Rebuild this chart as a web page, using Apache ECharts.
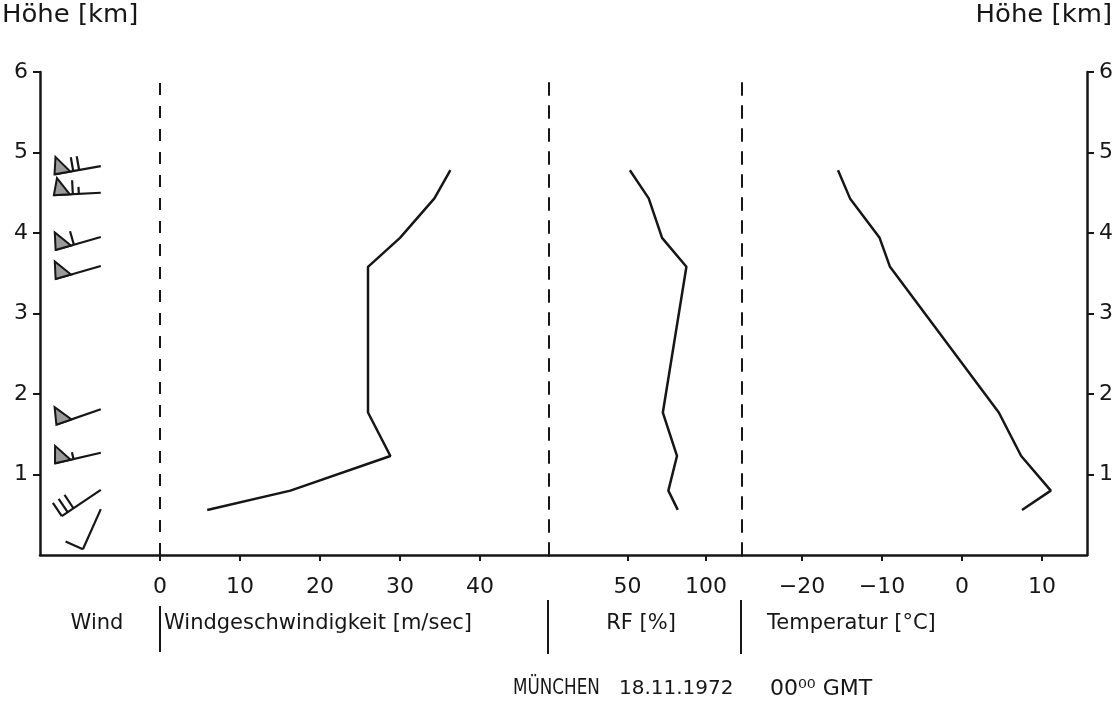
<!DOCTYPE html>
<html><head><meta charset="utf-8">
<script src="https://cdn.jsdelivr.net/npm/echarts@6/dist/echarts.min.js"></script>
<style>html,body{margin:0;padding:0;background:#fff}#c{width:1118px;height:706px}</style>
</head><body><div id="c"></div>
<script>
// ---- data ----
const heights      = [0.56, 0.80, 1.23, 1.77, 3.58, 3.94, 4.43, 4.78];   // km
const windSpeed    = [5.9, 16.3, 28.8, 26.0, 26.0, 30.0, 34.3, 36.3];    // m/s
const relHumidity  = [82, 76, 81.5, 72.5, 87.5, 72, 63.5, 51.5];          // %
const temperature  = [7.5, 11.1, 7.4, 4.6, -9.0, -10.3, -14.0, -15.5];    // °C
const barbHeights  = [0.57, 0.81, 1.27, 1.81, 3.59, 3.95, 4.50, 4.83];    // km
const barbDirection= [204, 236, 257, 251, 254, 254, 267, 260];            // deg
const barbKnots    = [10, 30, 55, 50, 50, 60, 65, 70];                    // kn
const heightTicks  = [1, 2, 3, 4, 5, 6];
const windTicks    = [0, 10, 20, 30, 40];
const rfTicks      = [50, 100];
const tempTicks    = [-20, -10, 0, 10];

const FONT = "'DejaVu Sans', 'Liberation Sans', sans-serif";
const INK = '#161616';
const BARB_X = -7.4; // horizontal anchor of the wind barbs (wind-axis units)

const chart = echarts.init(document.getElementById('c'), null, {renderer: 'canvas'});

const axisText = {color: INK, fontFamily: FONT, fontSize: 22};
const xAxisBase = (gi, min, max, ticks) => ({
  type: 'value', gridIndex: gi, min: min, max: max, splitLine: {show: false},
  axisLine: {show: true, onZero: false, lineStyle: {color: INK, width: 2.5}},
  axisTick: {show: true, customValues: ticks, length: 6, lineStyle: {color: INK, width: 2}},
  axisLabel: Object.assign({show: true, customValues: ticks, margin: 21,
    formatter: v => (v < 0 ? '\u2212' + Math.abs(v) : String(v))}, axisText)
});

function renderBarb(params, api) {
  const p = api.coord([api.value(0), api.value(1)]);
  const d = api.value(2) * Math.PI / 180;
  let kn = api.value(3);
  const total = kn;
  const ux = Math.sin(d), uy = -Math.cos(d);
  const nx = -uy, ny = ux;
  const L = total === 10 ? 44 : 47;
  const tip = [p[0] + L * ux, p[1] + L * uy];
  const at = o => [tip[0] - o * ux, tip[1] - o * uy];
  const ls = {stroke: INK, lineWidth: 2.2};
  const children = [{type: 'line', shape: {x1: p[0], y1: p[1], x2: tip[0], y2: tip[1]}, style: ls}];
  let off = 0;
  let pennant = false;
  while (kn >= 50) {
    const a = at(off), c = at(off + 16), bb = at(off + 4);
    children.push({type: 'polygon', shape: {points: [a, [bb[0] + 17 * nx, bb[1] + 17 * ny], c]},
      style: {fill: '#9a9a9a', stroke: INK, lineWidth: 2}});
    off += 19; kn -= 50; pennant = true;
  }
  const fullLen = pennant ? 14 : (total === 10 ? 19 : 16);
  const gap = pennant ? 6 : 7;
  while (kn >= 10) {
    const s = at(off);
    children.push({type: 'line', shape: {x1: s[0], y1: s[1], x2: s[0] + fullLen * nx, y2: s[1] + fullLen * ny}, style: ls});
    off += gap; kn -= 10;
  }
  if (kn >= 5) {
    const s = at(off);
    children.push({type: 'line', shape: {x1: s[0], y1: s[1], x2: s[0] + 7 * nx, y2: s[1] + 7 * ny}, style: ls});
  }
  return {type: 'group', children: children};
}

const yBase = (gi, pos) => ({
  type: 'value', gridIndex: gi, min: 0, max: 6, position: pos, splitLine: {show: false}
});
const solidY = (gi, pos) => Object.assign(yBase(gi, pos), {
  axisLine: {show: true, onZero: false, lineStyle: {color: INK, width: 2.5}},
  axisTick: {show: true, customValues: heightTicks, length: 7, lineStyle: {color: INK, width: 2}},
  axisLabel: Object.assign({show: true, customValues: heightTicks, margin: 12}, axisText)
});
const dashedY = gi => Object.assign(yBase(gi, 'left'), {
  axisLine: {show: true, onZero: false, lineStyle: {color: INK, width: 2, type: [12, 11]}},
  axisTick: {show: false}, axisLabel: {show: false}
});

const txt = (x, y, text, size, align, sx) => ({
  type: 'text', x: x, y: y, scaleX: sx || 1,
  style: {text: text, fill: INK, font: size + 'px ' + FONT, align: align || 'left', verticalAlign: 'middle'}
});

const option = {
  backgroundColor: '#ffffff',
  animation: false,
  grid: [
    {left: 40, top: 72, width: 509, height: 483},
    {left: 549, top: 72, width: 193, height: 483},
    {left: 742, top: 72, width: 345, height: 483}
  ],
  xAxis: [
    xAxisBase(0, -15, 48.625, windTicks),
    xAxisBase(1, 0, 122.9, rfTicks),
    xAxisBase(2, -27.5, 15.625, tempTicks)
  ],
  yAxis: [solidY(0, 'left'), dashedY(1), dashedY(2), solidY(2, 'right')],
  series: [
    {
      name: 'Windgeschwindigkeit', type: 'line', xAxisIndex: 0, yAxisIndex: 0,
      data: heights.map((h, i) => [windSpeed[i], h]),
      showSymbol: false, lineStyle: {color: INK, width: 2.5}, silent: true,
      markLine: {silent: true, symbol: ['none', 'none'], label: {show: false},
        lineStyle: {color: INK, width: 2, type: [12, 11]}, data: [{xAxis: 0}]}
    },
    {
      name: 'RF', type: 'line', xAxisIndex: 1, yAxisIndex: 1,
      data: heights.map((h, i) => [relHumidity[i], h]),
      showSymbol: false, lineStyle: {color: INK, width: 2.5}, silent: true
    },
    {
      name: 'Temperatur', type: 'line', xAxisIndex: 2, yAxisIndex: 2,
      data: heights.map((h, i) => [temperature[i], h]),
      showSymbol: false, lineStyle: {color: INK, width: 2.5}, silent: true
    },
    {
      name: 'Wind', type: 'custom', xAxisIndex: 0, yAxisIndex: 0, silent: true,
      data: barbHeights.map((h, i) => [BARB_X, h, barbDirection[i], barbKnots[i]]),
      encode: {x: 0, y: 1},
      renderItem: renderBarb
    }
  ],
  graphic: [
    txt(2, 16, 'Höhe [km]', 24, 'left', 1.08),
    txt(1112, 16, 'Höhe [km]', 24, 'right', 1.08),
    txt(97, 624, 'Wind', 21, 'center'),
    txt(164, 624, 'Windgeschwindigkeit [m/sec]', 21),
    txt(641, 624, 'RF [%]', 21, 'center'),
    txt(767, 624, 'Temperatur [°C]', 21),
    txt(513, 689, 'MÜNCHEN', 21, 'left', 0.8),
    txt(619, 689, '18.11.1972', 20),
    txt(770, 689, '00\u2070\u2070 GMT', 22),
    {type: 'line', shape: {x1: 160, y1: 606, x2: 160, y2: 652}, style: {stroke: INK, lineWidth: 2}},
    {type: 'line', shape: {x1: 548, y1: 600, x2: 548, y2: 654}, style: {stroke: INK, lineWidth: 2}},
    {type: 'line', shape: {x1: 741, y1: 600, x2: 741, y2: 654}, style: {stroke: INK, lineWidth: 2}}
  ]
};
chart.setOption(option);
</script>
</body></html>
